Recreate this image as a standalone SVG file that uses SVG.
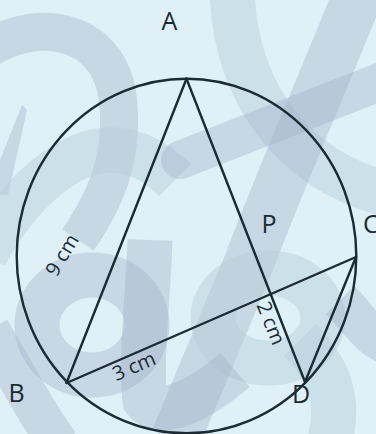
<svg xmlns="http://www.w3.org/2000/svg" width="376" height="434" viewBox="0 0 376 434">
<style>
.sw{fill:none;stroke:#a3b1c9;stroke-opacity:0.4}
.sl{fill:none;stroke:#b6ccd8;stroke-opacity:0.45}
.ln{fill:none;stroke:#1b2a33;stroke-width:2.4;stroke-linecap:round}
.lb{font-family:"Open Sans","Noto Sans",sans-serif;font-size:25px;fill:#1b2a33}
.ms{font-family:"Open Sans","Noto Sans",sans-serif;font-size:20px;fill:#1b2a33;text-anchor:middle}
</style>
<rect width="376" height="434" fill="#dff0f7"/>
<g id="background">
<path class="sw" stroke-width="38" d="M -20,55 C 30,15 110,25 118,100 C 124,160 105,200 78,240"/>
<polygon fill="#a3b1c9" fill-opacity="0.4" points="22,105 27,110 8,195 0,195 0,160"/>
<path class="sl" stroke-width="45" d="M -15,255 C 20,190 70,150 110,150 C 140,150 160,165 175,180"/>
<path class="sl" stroke-width="45" d="M 232,-10 C 235,90 290,170 390,195"/>
<path class="sw" stroke-width="38" stroke-linecap="round" d="M 180,160 L 390,78"/>
<path class="sw" stroke-width="50" d="M 360,-10 C 320,90 280,180 250,260 C 225,320 200,380 175,440"/>
<ellipse class="sl" stroke-width="45" cx="268" cy="318" rx="55" ry="45"/>
<path class="sl" stroke-width="45" d="M 300,340 C 330,370 340,400 330,440"/>
<ellipse class="sw" stroke-width="45" cx="92" cy="325" rx="55" ry="50"/>
<path class="sw" stroke-width="45" d="M 150,240 C 148,300 140,360 145,400 C 160,420 200,400 235,370"/>
<path class="sw" stroke-width="40" d="M -10,330 C 20,380 40,420 60,445"/>
<path class="sw" stroke-width="40" d="M 340,300 C 360,320 370,340 390,345"/>
</g>
<g id="circle">
<ellipse class="ln" cx="186.5" cy="256" rx="169.8" ry="177.3"/>
</g>
<g id="connectors">
<line class="ln" x1="186.5" y1="78.7" x2="66.5" y2="383"/>
<line class="ln" x1="186.5" y1="78.7" x2="305" y2="382"/>
<line class="ln" x1="66.5" y1="383" x2="356" y2="257"/>
<line class="ln" x1="356" y1="257" x2="305" y2="382"/>
</g>
<g id="node-A"><text class="lb" x="169.5" y="30" text-anchor="middle">A</text></g>
<g id="node-B"><text class="lb" x="16.5" y="402" text-anchor="middle">B</text></g>
<g id="node-C"><text class="lb" x="363" y="233">C</text></g>
<g id="node-D"><text class="lb" x="301" y="403" text-anchor="middle">D</text></g>
<g id="node-P"><text class="lb" x="269" y="233" text-anchor="middle">P</text></g>
<g id="labels">
<text class="ms" transform="translate(62,255) rotate(-59)" y="7">9 cm</text>
<text class="ms" transform="translate(134,366) rotate(-23.5)" y="7">3 cm</text>
<text class="ms" transform="translate(271,323) rotate(68)" y="7">2 cm</text>
</g>
</svg>
